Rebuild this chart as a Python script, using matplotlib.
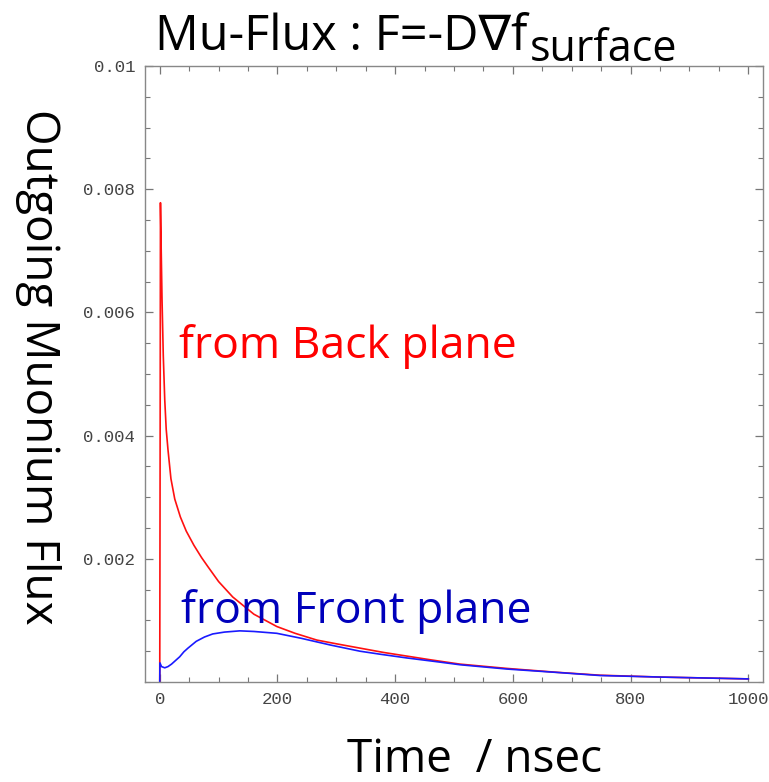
import matplotlib
matplotlib.use("Agg")
import matplotlib.pyplot as plt
from matplotlib.ticker import MultipleLocator, FixedLocator

# values
t_back = [0, 0.6, 1.2, 2.5, 3.9, 6, 8.5, 11, 14, 19, 25.5, 35, 45, 58, 71, 82, 100, 124,
          160, 199, 230, 267, 300, 340, 380, 420, 460, 510, 590, 675, 748, 850, 1000]
flux_back = [0, 0.0035, 0.00778, 0.0070, 0.0062, 0.0053, 0.00458, 0.0041, 0.00377, 0.0033,
             0.00297, 0.00268, 0.00245, 0.00222, 0.00202, 0.00187, 0.00163, 0.00138,
             0.00110, 0.0009, 0.00079, 0.00068, 0.00062, 0.00055, 0.00048, 0.00042,
             0.00036, 0.00029, 0.00022, 0.000157, 0.00011, 0.00008, 0.00005]

t_front = [0, 0.3, 3, 8.5, 14, 20, 27, 34, 41, 48, 62, 76, 90, 110, 136, 160, 199, 240,
           290, 340, 375, 420, 470, 510, 590, 675, 748, 850, 1000]
flux_front = [0, 0.00031, 0.00025, 0.00023, 0.00025, 0.00029, 0.00035, 0.00041, 0.00049,
              0.00055, 0.00066, 0.00073, 0.00078, 0.00081, 0.00083, 0.00082, 0.00079,
              0.00071, 0.0006, 0.0005, 0.00045, 0.00039, 0.00033, 0.00028, 0.00021,
              0.000155, 0.000105, 0.00008, 0.00005]

x_ticks = [0, 200, 400, 600, 800, 1000]
y_ticks = [0.002, 0.004, 0.006, 0.008, 0.01]
y_tick_labels = ["0.002", "0.004", "0.006", "0.008", "0.01"]

sans = ["Open Sans", "DejaVu Sans"]

fig = plt.figure(figsize=(7.69, 7.82), dpi=100)
ax = fig.add_axes([0.1886, 0.1279, 0.8036, 0.7877])

ax.plot(t_back, flux_back, color="#ff1010", lw=1.2)
ax.plot(t_front, flux_front, color="#1a1aff", lw=1.2)

ax.set_xlim(-25, 1025)
ax.set_ylim(0, 0.01)

ax.xaxis.set_major_locator(FixedLocator(x_ticks))
ax.xaxis.set_minor_locator(MultipleLocator(50))
ax.yaxis.set_major_locator(FixedLocator(y_ticks))
ax.yaxis.set_minor_locator(MultipleLocator(0.0005))
ax.set_xticklabels([str(v) for v in x_ticks])
ax.set_yticklabels(y_tick_labels)

ax.tick_params(which="both", direction="in", top=True, right=True, color="#777777",
               labelcolor="#444444", labelsize=12.5, pad=7)
ax.tick_params(which="major", length=6, width=0.9)
ax.tick_params(which="minor", length=3.5, width=0.8)
for lab in ax.get_xticklabels() + ax.get_yticklabels():
    lab.set_family("Liberation Mono")
for s in ax.spines.values():
    s.set_color("#888888")
    s.set_linewidth(1.0)

ax.text(32, 0.00544, "from Back plane", color="#ff0000", fontsize=32, family=sans,
        va="center", ha="left")
ax.text(36, 0.00114, "from Front plane", color="#0000bb", fontsize=32, family=sans,
        va="center", ha="left")

title = fig.text(155 / 769, 1 - 50 / 782, "Mu-Flux : F=-D\u2207f", fontsize=35,
                 family=sans, ha="left", va="baseline")
ax.annotate("surface", xy=(1, 0), xycoords=title, xytext=(2, 1),
            textcoords="offset points", fontsize=31, family=sans, va="baseline")

fig.text(38 / 769, 1 - 367 / 782, "Outgoing Muonium Flux", rotation=270, fontsize=33,
         family=sans, ha="center", va="center")
fig.text(475 / 769, 1 - 760 / 782, "Time  / nsec", fontsize=33, family=sans,
         ha="center", va="center")

fig.savefig("out.png", dpi=100)
